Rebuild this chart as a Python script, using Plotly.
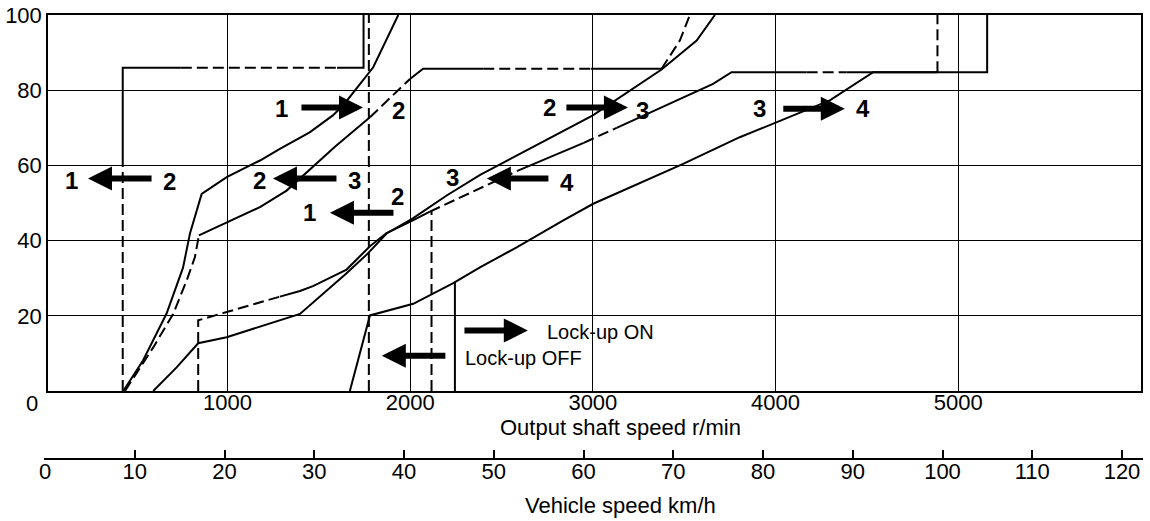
import plotly.graph_objects as go

FONT = "Liberation Sans, Arial, sans-serif"

# ---------------- data (output shaft speed r/min, throttle %) ----------------
# 1 -> 2 upshift
up12_rpm = [430, 538, 667, 757, 795, 859, 996, 1178, 1287, 1450, 1577, 1634, 1798, 1935]
up12_thr = [0, 8.1, 20.6, 32.8, 41.9, 52.4, 56.9, 61.3, 64.4, 68.8, 73.3, 76.0, 86.1, 100]

# 2 -> 1 downshift
dn21_rpm = [427, 427, 427, 745, 1600, 1745, 1745]
dn21_thr = [0, 60, 86, 86, 86, 86, 100]

# 3 -> 2 downshift
dn32_rpm = [439, 594, 703, 777, 822, 844, 996, 1178, 1324, 1590, 1780, 1999, 2071, 2400, 2990, 3376, 3476, 3531]
dn32_thr = [0, 11.6, 20.5, 29.4, 35.6, 41.4, 44.9, 48.9, 53.3, 65.0, 72.8, 83.0, 85.7, 85.7, 85.7, 85.7, 93.2, 100]

# 2 -> 3 upshift
up23_rpm = [594, 722, 840, 996, 1397, 1468, 1652, 1769, 1871, 2015, 2200, 2383, 3000, 3376, 3568, 3668]
up23_thr = [0, 6.3, 12.7, 14.3, 20.5, 23.5, 31.3, 36.6, 41.9, 45.9, 52.0, 57.5, 73.3, 85.5, 93.2, 100]

# 4 -> 3 downshift
dn43_rpm = [840, 840, 996, 1287, 1397, 1468, 1652, 1780, 1871, 2015, 2108, 2590, 2950, 3130, 3658, 3759, 4170, 4389, 4886, 4886]
dn43_thr = [0, 18.8, 21.0, 25.1, 26.6, 27.9, 32.3, 38.5, 42.0, 45.4, 47.7, 58.6, 66.0, 70.0, 81.7, 84.8, 84.8, 84.8, 84.8, 100]

# 3 -> 4 upshift
up34_rpm = [1670, 1780, 2017, 2236, 2382, 2583, 2836, 3002, 3494, 3804, 3896, 4133, 4297, 4534, 5158, 5158]
up34_thr = [0, 20.1, 23.2, 28.7, 32.9, 38.2, 45.3, 49.8, 60.4, 67.5, 69.3, 74.1, 77.3, 84.8, 84.8, 100]

# lock-up lines and full-height dashed line
lockup_on_rpm = [2245, 2245]
lockup_on_thr = [0, 28.9]
lockup_off_rpm = [2117, 2117]
lockup_off_thr = [0, 47.9]
manual_rpm = [1774, 1774]
manual_thr = [0, 100]

# axes
rpm_ticks = [1000, 2000, 3000, 4000, 5000]
thr_ticks = [20, 40, 60, 80, 100]
kmh_ticks = [0, 10, 20, 30, 40, 50, 60, 70, 80, 90, 100, 110, 120]

# shift labels: (text, rpm, throttle)
gear_labels = [
    ("1", 147, 56.0), ("2", 685, 55.7),
    ("2", 1178, 56.0), ("3", 1698, 56.0),
    ("1", 1298, 75.1), ("2", 1939, 74.6),
    ("1", 1451, 47.5), ("2", 1933, 51.7),
    ("3", 2234, 56.8), ("4", 2858, 55.4),
    ("2", 2760, 75.4), ("3", 3274, 74.6),
    ("3", 3914, 75.1), ("4", 4478, 75.1),
]
# arrows: (tail rpm, tail thr, tip rpm, tip thr)
arrows = [
    (593, 56.5, 237, 56.5),
    (1605, 56.5, 1249, 56.5),
    (1397, 75.4, 1742, 75.4),
    (1917, 47.4, 1561, 47.4),
    (2765, 56.5, 2420, 56.5),
    (2847, 75.4, 3192, 75.4),
    (4034, 75.1, 4379, 75.1),
    (2289, 16.1, 2644, 16.1),
    (2201, 9.4, 1845, 9.4),
]
lockup_texts = [("Lock-up ON", 2738, 15.6), ("Lock-up OFF", 2288, 8.9)]

# ---------------- figure ----------------
fig = go.Figure()
DASH = "11px,5px"


def add_line(xs, ys, dash="solid"):
    fig.add_trace(go.Scatter(x=xs, y=ys, mode="lines",
                             line=dict(color="black", width=2, dash=dash),
                             hoverinfo="skip", showlegend=False))


def add_pieces(xs, ys, pieces):
    for i0, i1, dash in pieces:
        add_line(xs[i0:i1 + 1], ys[i0:i1 + 1], dash)


add_line(up12_rpm, up12_thr)
add_pieces(dn21_rpm, dn21_thr, [(0, 1, DASH), (1, 3, "solid"), (3, 4, DASH), (4, 6, "solid")])
add_pieces(dn32_rpm, dn32_thr, [(0, 5, DASH), (5, 10, "solid"), (10, 11, DASH), (11, 13, "solid"),
                                (13, 14, DASH), (14, 15, "solid"), (15, 17, DASH)])
add_line(up23_rpm, up23_thr)
add_pieces(dn43_rpm, dn43_thr, [(0, 3, DASH), (3, 10, "solid"), (10, 11, DASH), (11, 12, "solid"),
                                (12, 13, DASH), (13, 16, "solid"), (16, 17, DASH), (17, 18, "solid"),
                                (18, 19, DASH)])
add_line(up34_rpm, up34_thr)
add_line(lockup_on_rpm, lockup_on_thr)
add_line(lockup_off_rpm, lockup_off_thr, DASH)
add_line(manual_rpm, manual_thr, DASH)

# dummy trace to carry the vehicle-speed axis
fig.add_trace(go.Scatter(x=[kmh_ticks[0], kmh_ticks[-1]], y=[0, 0], xaxis="x2", yaxis="y2",
                         mode="lines", line=dict(color="rgba(0,0,0,0)"),
                         hoverinfo="skip", showlegend=False))

annotations = []
for t, x, y in gear_labels:
    annotations.append(dict(text=t, x=x, y=y, xref="x", yref="y", showarrow=False,
                            font=dict(family=FONT, size=24, color="black", weight="bold")))
for tx, ty, hx, hy in arrows:
    annotations.append(dict(text="", x=hx, y=hy, ax=tx, ay=ty, xref="x", yref="y",
                            axref="x", ayref="y", showarrow=True, arrowhead=2,
                            arrowwidth=6, arrowsize=0.8, arrowcolor="black", standoff=0))
for t, x, y in lockup_texts:
    annotations.append(dict(text=t, x=x, y=y, xref="x", yref="y", showarrow=False,
                            xanchor="left", font=dict(family=FONT, size=20, color="black")))
annotations += [
    dict(text="0", x=0, y=0, xref="paper", yref="paper", showarrow=False,
         xanchor="center", yanchor="middle",
         xshift=-12, yshift=55, font=dict(family=FONT, size=22, color="black")),
    dict(text="Output shaft speed r/min", x=0.525, y=0, xref="paper", yref="paper",
         xanchor="center", yanchor="middle",
         showarrow=False, yshift=31, font=dict(family=FONT, size=22, color="black")),
    dict(text="Vehicle speed km/h", x=0.525, y=0, xref="paper", yref="paper",
         xanchor="center", yanchor="middle",
         showarrow=False, yshift=-47, font=dict(family=FONT, size=22, color="black")),
]

fig.update_layout(
    width=1150, height=521,
    margin=dict(l=44, r=7, t=15, b=63, autoexpand=False),
    paper_bgcolor="white", plot_bgcolor="white",
    font=dict(family=FONT, size=22, color="black"),
    showlegend=False,
    annotations=annotations,
    xaxis=dict(domain=[0.00364, 0.99818], range=[18, 6000], tickvals=rpm_ticks,
               showgrid=True, gridcolor="black", gridwidth=1, zeroline=False,
               showline=True, linecolor="black", linewidth=1.5, mirror=True,
               ticks="", tickfont=dict(size=22), anchor="y", automargin=False,
               ticklabelstandoff=-9),
    yaxis=dict(domain=[0.1512, 1], range=[0, 100], tickvals=thr_ticks,
               showgrid=True, gridcolor="black", gridwidth=1, zeroline=False,
               showline=True, linecolor="black", linewidth=1.5, mirror=True,
               ticks="", tickfont=dict(size=22), anchor="x", automargin=False),
    xaxis2=dict(domain=[0, 1], range=[-0.111, 122.34], tickvals=kmh_ticks,
                showgrid=False, zeroline=False, showline=True, linecolor="black",
                linewidth=1.5, ticks="inside", ticklen=8, tickwidth=1.5, tickcolor="black",
                tickfont=dict(size=22), anchor="y2", automargin=False,
                ticklabelstandoff=-7),
    yaxis2=dict(domain=[0, 0.01], visible=False, range=[0, 1], automargin=False),
)

fig.write_html(
    "out.html",
    config={"displayModeBar": False},
    post_script="document.documentElement.style.margin='0';"
                "document.body.style.margin='0';document.body.style.padding='0';"
                "document.body.style.overflow='hidden';",
)
